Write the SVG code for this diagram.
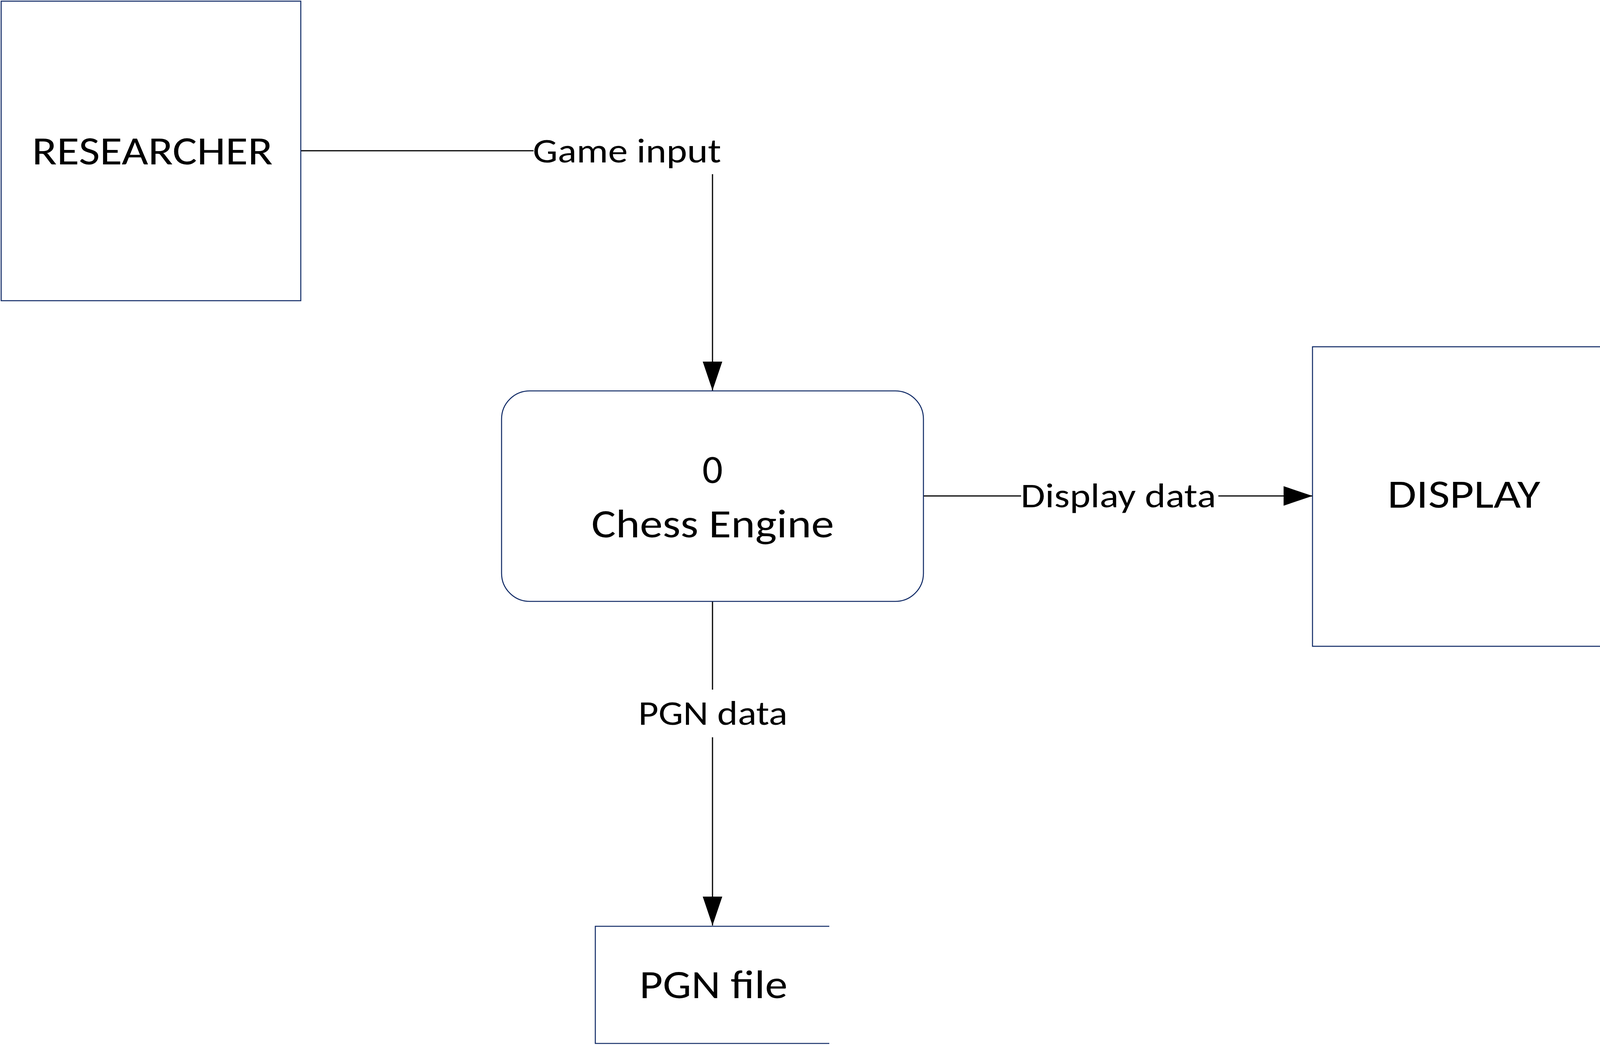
<svg xmlns="http://www.w3.org/2000/svg" width="4132" height="2676" viewBox="0 0 4132 2676">
<style>
.node{fill:#ffffff;stroke:#102a66;stroke-width:2.6}
.store{fill:none;stroke:#102a66;stroke-width:2.6}
.conn{fill:none;stroke:#000000;stroke-width:3}
.lblbg{fill:#ffffff;stroke:none}
.t{font-family:Carlito,Lato,"Open Sans",sans-serif;fill:#000000;text-anchor:middle}
.big{font-size:103px}
.small{font-size:88px}
</style>
<defs>
<marker id="arrow" markerUnits="userSpaceOnUse" markerWidth="74" markerHeight="50" refX="74" refY="25" orient="auto">
<path d="M0,0 L74,25 L0,50 Z" fill="#000000"/>
</marker>
</defs>
<rect width="4132" height="2676" fill="#ffffff"/>
<g id="connectors">
<g id="conn-game-input">
<path class="conn" d="M770,386 H1824 V1000" marker-end="url(#arrow)"/>
<rect class="lblbg" x="1366" y="326" width="482" height="120"/>
<text class="t small" x="1605" y="416" textLength="482" lengthAdjust="spacingAndGlyphs">Game input</text>
</g>
<g id="conn-display-data">
<path class="conn" d="M2364,1270 H3360" marker-end="url(#arrow)"/>
<rect class="lblbg" x="2614" y="1210" width="505" height="120"/>
<text class="t small" x="2863" y="1299" textLength="500" lengthAdjust="spacingAndGlyphs">Display data</text>
</g>
<g id="conn-pgn-data">
<path class="conn" d="M1824,1540 V2370" marker-end="url(#arrow)"/>
<rect class="lblbg" x="1620" y="1766" width="410" height="122"/>
<text class="t small" x="1825" y="1856" textLength="382" lengthAdjust="spacingAndGlyphs">PGN data</text>
</g>
</g>
<g id="researcher">
<rect class="node" x="3" y="3" width="767" height="767"/>
<text class="t big" x="390" y="421" textLength="616" lengthAdjust="spacingAndGlyphs">RESEARCHER</text>
</g>
<g id="chess-engine">
<rect class="node" x="1284" y="1001" width="1080" height="539" rx="72" ry="72"/>
<text class="t big" x="1824" y="1237">0</text>
<text class="t big" x="1824.5" y="1376" textLength="621" lengthAdjust="spacingAndGlyphs">Chess Engine</text>
</g>
<g id="display">
<rect class="node" x="3360" y="888" width="767" height="767"/>
<text class="t big" x="3747.5" y="1300" textLength="391" lengthAdjust="spacingAndGlyphs">DISPLAY</text>
</g>
<g id="pgn-file">
<path class="store" d="M2123,2372 H1524 V2672 H2123"/>
<text class="t big" x="1826.5" y="2556" textLength="379" lengthAdjust="spacingAndGlyphs">PGN file</text>
</g>
</svg>
